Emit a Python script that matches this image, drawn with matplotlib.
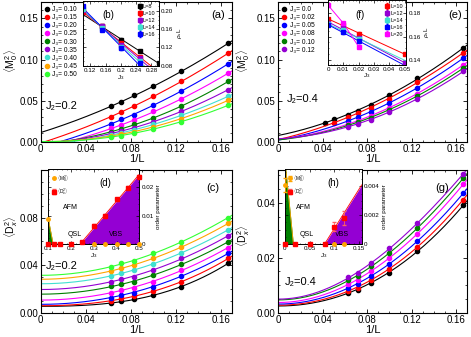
import numpy as np
import matplotlib
matplotlib.use("Agg")
import matplotlib.pyplot as plt

plt.rcParams['font.family'] = ['Liberation Sans', 'DejaVu Sans']
plt.rcParams['mathtext.fontset'] = 'custom'
plt.rcParams['mathtext.rm'] = 'Liberation Sans'
plt.rcParams['mathtext.it'] = 'Liberation Sans:italic'

colors = ["black", "red", "blue", "magenta", "green", "#9400d3", "#40e0d0", "orange", "#33ff33"]

# ---- panel (a): <M0^2>, J2=0.2
inv_L = [1/16, 1/14, 1/12, 1/10, 1/8, 1/6]
j3_labels_a = ["0.10", "0.15", "0.20", "0.25", "0.30", "0.35", "0.40", "0.45", "0.50"]
m2_a = [
    [0.0431, 0.0484, 0.0565, 0.0673, 0.0855, 0.1198],
    [0.0306, 0.0363, 0.0431, 0.0552, 0.0734, 0.1077],
    [0.0214, 0.0274, 0.0331, 0.0444, 0.0617, 0.0948],
    [0.0161, 0.0202, 0.0262, 0.0371, 0.0516, 0.0835],
    [0.0121, 0.0153, 0.0210, 0.0290, 0.0431, 0.0734],
    [0.0101, 0.0129, 0.0169, 0.0242, 0.0371, 0.0633],
    [0.0081, 0.0109, 0.0141, 0.0210, 0.0323, 0.0552],
    [0.0069, 0.0093, 0.0121, 0.0181, 0.0282, 0.0504],
    [0.0056, 0.0073, 0.0109, 0.0153, 0.0242, 0.0444],
]

# ---- panel (c): <Dx^2>, J2=0.2
d2_c = [
    [0.0076, 0.0093, 0.0112, 0.0146, 0.0216, 0.0415],
    [0.0098, 0.0118, 0.0135, 0.0177, 0.0261, 0.0455],
    [0.0126, 0.0149, 0.0168, 0.0216, 0.0309, 0.0497],
    [0.0168, 0.0188, 0.0210, 0.0261, 0.0357, 0.0547],
    [0.0219, 0.0239, 0.0261, 0.0314, 0.0407, 0.0595],
    [0.0261, 0.0281, 0.0303, 0.0357, 0.0455, 0.0646],
    [0.0309, 0.0331, 0.0357, 0.0407, 0.0505, 0.0696],
    [0.0351, 0.0373, 0.0399, 0.0455, 0.0553, 0.0750],
    [0.0385, 0.0413, 0.0435, 0.0497, 0.0595, 0.0800],
]

# ---- panel (e): <M0^2>, J2=0.4
j3_labels_e = ["0.0", "0.02", "0.05", "0.08", "0.10", "0.12"]
x_e = [
    [1/24, 1/20, 1/16, 1/14, 1/12, 1/10, 1/8, 1/6],
    [1/20, 1/16, 1/14, 1/12, 1/10, 1/8, 1/6],
    inv_L, inv_L, inv_L, inv_L,
]
m2_e = [
    [0.0230, 0.0274, 0.0327, 0.0379, 0.0452, 0.0565, 0.0774, 0.1137],
    [0.0230, 0.0298, 0.0351, 0.0415, 0.0524, 0.0726, 0.1080],
    [0.0254, 0.0298, 0.0363, 0.0472, 0.0657, 0.1016],
    [0.0214, 0.0254, 0.0315, 0.0415, 0.0585, 0.0935],
    [0.0198, 0.0238, 0.0294, 0.0391, 0.0556, 0.0895],
    [0.0181, 0.0218, 0.0270, 0.0363, 0.0520, 0.0855],
]

# ---- panel (g): <Dx^2>, J2=0.4
d2_g = [
    [0.0072, 0.0083, 0.0109, 0.0145, 0.0224, 0.0391],
    [0.0080, 0.0091, 0.0118, 0.0158, 0.0240, 0.0412],
    [0.0091, 0.0103, 0.0133, 0.0176, 0.0261, 0.0435],
    [0.0103, 0.0118, 0.0152, 0.0199, 0.0286, 0.0468],
    [0.0117, 0.0133, 0.0168, 0.0217, 0.0307, 0.0490],
    [0.0128, 0.0143, 0.0180, 0.0234, 0.0325, 0.0506],
]

# ---- inset (b): rho_s L vs J3
L_labels_b = ["L=8", "L=10", "L=12", "L=14", "L=16"]
colors_b = ["black", "red", "#9400d3", "#40e0d0", "blue"]
j3_b = [
    [0.15, 0.2, 0.25, 0.3],
    [0.1, 0.15, 0.2, 0.25],
    [0.1, 0.15, 0.2, 0.25],
    [0.1, 0.15, 0.2, 0.25],
    [0.1, 0.15, 0.2, 0.25],
]
rho_b = [
    [0.1665, 0.1375, 0.1120, 0.0850],
    [0.1978, 0.1665, 0.1300, 0.0996],
    [0.2015, 0.1665, 0.1265, 0.0960],
    [0.2050, 0.1636, 0.1215, 0.0909],
    [0.2120, 0.1593, 0.1178, 0.0851],
]

# ---- inset (f): rho_s L vs J3
L_labels_f = ["L=10", "L=12", "L=14", "L=16", "L=20"]
colors_f = ["red", "#9400d3", "#40e0d0", "blue", "magenta"]
j3_f = [
    [0.0, 0.01, 0.02, 0.05],
    [0.0, 0.01, 0.02, 0.05],
    [0.0, 0.01, 0.02],
    [0.0, 0.01, 0.02],
    [0.0, 0.01, 0.02],
]
rho_f = [
    [0.1750, 0.1700, 0.1624, 0.1450],
    [0.1713, 0.1674, 0.1587, 0.1372],
    [0.1705, 0.1654, 0.1580],
    [0.1700, 0.1638, 0.1560],
    [0.1870, 0.1715, 0.1512],
]

# ---- inset (d): phase diagram J2=0.2
j3_D_d = [0.1, 0.125, 0.15, 0.2, 0.25, 0.3, 0.35, 0.4, 0.45, 0.5]
D_d = [0, 0, 0, 0, 0.0008, 0.0064, 0.0100, 0.0158, 0.0199, 0.0238]
D_err_d = [0, 0, 0, 0, 0.0004, 0.0005, 0.0005, 0.0005, 0.0005, 0.0005]
j3_M_d = [0.1, 0.3, 0.35, 0.4, 0.45, 0.5]
M_d = [0.0088, 0, 0, 0, 0, 0]
afm_j3_d = [0.1, 0.121]
afm_edge_d = [0.0088, 0.0]
vbs_j3_d = [0.24, 0.5]
vbs_edge_d = [0.0, 0.0246]

# ---- inset (h): phase diagram J2=0.4
j3_D_h = [0.0, 0.02, 0.05, 0.08, 0.1, 0.12]
D_h = [0, 0, 0, 0, 0.0012, 0.0018]
D_err_h = [0, 0, 0, 0, 0.0003, 0.0005]
j3_M_h = [0.0, 0.1, 0.12]
M_h = [0.0041, 0, 0]
M_err_h = [0.0005, 0, 0]
afm_j3_h = [0.0, 0.017]
afm_edge_h = [0.0058, 0.0]
vbs_j3_h = [0.08, 0.155]
vbs_edge_h = [0.0, 0.0041]

fig = plt.figure(figsize=(4.71, 3.37), dpi=100)


def style_axes(ax, size=7):
    ax.tick_params(which="both", direction="in", top=True, right=True, labelsize=size, pad=2)
    ax.tick_params(which="major", length=3, width=0.6)
    ax.tick_params(which="minor", length=1.5, width=0.5)
    ax.minorticks_on()
    for s in ax.spines.values():
        s.set_linewidth(0.8)


def fit_curve(x, y, powers):
    x = np.asarray(x)
    A = np.vstack([x ** p for p in powers]).T
    coef = np.linalg.lstsq(A, np.asarray(y), rcond=None)[0]
    xf = np.linspace(0, 0.17, 200)
    return xf, sum(c * xf ** p for c, p in zip(coef, powers))


def main_panel(ax, xs, series, cols, powers, ylim, yticks, ylabel, ylab_pos, j2, tag, tagpos, j2pos):
    for x, y, c in zip(xs, series, cols):
        xf, yf = fit_curve(x, y, powers)
        ax.plot(xf, yf, color=c, lw=0.8)
        ax.plot(x, y, "o", color=c, ms=3)
    ax.set_xlim(0, 0.17)
    ax.set_ylim(*ylim)
    ax.set_xticks([0, 0.04, 0.08, 0.12, 0.16])
    ax.set_xticklabels(["0", "0.04", "0.08", "0.12", "0.16"])
    ax.set_yticks(yticks)
    style_axes(ax)
    ax.set_xlabel("1/L", fontsize=8, labelpad=0)
    ax.set_ylabel(ylabel, fontsize=7.5)
    ax.yaxis.set_label_coords(*ylab_pos)
    ax.text(tagpos[0], tagpos[1], tag, transform=ax.transAxes, fontsize=8, ha="center", va="center")
    ax.text(j2pos[0], j2pos[1], j2, transform=ax.transAxes, fontsize=8, ha="left", va="center")


def j3_legend(ax, cols, labels):
    for c, lab in zip(cols, labels):
        ax.plot([], [], "o", color=c, ms=3, label="J\u2083= " + lab)
    ax.legend(loc="upper left", bbox_to_anchor=(0.0, 1.0), fontsize=4.8, frameon=False,
              handlelength=0.6, handletextpad=0.5, labelspacing=0.17, borderaxespad=0.3,
              borderpad=0.3)


ax_a = fig.add_axes([0.0864, 0.5795, 0.4062, 0.4145])
main_panel(ax_a, [inv_L] * 9, m2_a, colors, [0, 1, 2], (0, 0.17), [0, 0.05, 0.10, 0.15],
           r"$\langle$M$_0^2\rangle$", (-0.11, 0.58), "J\u2082=0.2", "(a)", (0.93, 0.91), (0.028, 0.256))
ax_a.set_yticklabels(["0.00", "0.05", "0.10", "0.15"])
j3_legend(ax_a, colors, j3_labels_a)

ax_e = fig.add_axes([0.591, 0.5795, 0.4005, 0.4145])
main_panel(ax_e, x_e, m2_e, colors[:6], [0, 1, 2], (0, 0.17), [0, 0.05, 0.10, 0.15],
           r"$\langle$M$_0^2\rangle$", (-0.14, 0.58), "J\u2082=0.4", "(e)", (0.936, 0.907), (0.046, 0.306))
ax_e.set_yticklabels(["0.00", "0.05", "0.10", "0.15"])
j3_legend(ax_e, colors[:6], j3_labels_e)

ax_c = fig.add_axes([0.0864, 0.0727, 0.4062, 0.4228])
main_panel(ax_c, [inv_L] * 9, d2_c, colors, [0, 2, 3], (0, 0.12), [0, 0.04, 0.08],
           r"$\langle$D$_x^2\rangle$", (-0.11, 0.6), "J\u2082=0.2", "(c)", (0.90, 0.874), (0.028, 0.326))
ax_c.set_yticklabels(["0.00", "0.04", "0.08"])

ax_g = fig.add_axes([0.591, 0.0727, 0.4005, 0.4228])
main_panel(ax_g, [inv_L] * 6, d2_g, colors[:6], [0, 2, 3], (0, 0.052), [0, 0.02, 0.04],
           r"$\langle$D$_x^2\rangle$", (-0.14, 0.54), "J\u2082=0.4", "(g)", (0.867, 0.874), (0.036, 0.214))
ax_g.set_yticklabels(["0.00", "0.02", "0.04"])


def inset_style(ax):
    ax.tick_params(which="both", direction="in", top=True, right=True, left=True,
                   labelleft=False, labelright=True, labelsize=4.5, pad=1.5)
    ax.tick_params(which="major", length=2, width=0.5)
    ax.tick_params(which="minor", length=1, width=0.4)
    ax.minorticks_on()
    ax.yaxis.set_label_position("right")
    for s in ax.spines.values():
        s.set_linewidth(0.7)


def stiffness_inset(ax, xs, ys, cols, labels, xlim, connect=None):
    for x, y, c, lab in zip(xs, ys, cols, labels):
        if lab == connect:
            ax.plot(x, y, color=c, lw=0.7)
        else:
            p = np.polyfit(x, y, 1)
            xl = np.array(xlim)
            ax.plot(xl, np.polyval(p, xl), color=c, lw=0.7)
        ax.errorbar(x, y, yerr=0.0015 * (xlim[1] - xlim[0]) / 0.2 + 0.0008, fmt="s", color=c,
                    ms=2.5, capsize=1, elinewidth=0.5, label=lab)
    ax.set_xlim(*xlim)
    ax.legend(loc="upper right", fontsize=4, frameon=False, handlelength=0.6,
              handletextpad=0.3, labelspacing=0.35, borderaxespad=0.2, markerscale=0.9)


# inset (b)
ax_b = fig.add_axes([0.1756, 0.805, 0.162, 0.192])
stiffness_inset(ax_b, j3_b, rho_b, colors_b, L_labels_b, (0.1, 0.3))
ax_b.set_ylim(0.08, 0.222)
ax_b.set_xticks([0.12, 0.16, 0.2, 0.24, 0.28])
ax_b.set_xticklabels(["0.12", "0.16", "0.2", "0.24", "0.28"])
ax_b.set_yticks([0.08, 0.12, 0.16, 0.20])
inset_style(ax_b)
ax_b.set_xlabel(r"J$_3$", fontsize=4.5, labelpad=0)
ax_b.set_ylabel(r"$\rho_s$L", fontsize=4.5, labelpad=1)
ax_b.text(0.33, 0.79, "(b)", transform=ax_b.transAxes, fontsize=7, ha="center", va="center")

# inset (f)
ax_f = fig.add_axes([0.6964, 0.8086, 0.166, 0.19])
stiffness_inset(ax_f, j3_f, rho_f, colors_f, L_labels_f, (0.0, 0.051), connect="L=20")
ax_f.set_ylim(0.136, 0.191)
ax_f.set_xticks([0, 0.01, 0.02, 0.03, 0.04, 0.05])
ax_f.set_xticklabels(["0", "0.01", "0.02", "0.03", "0.04", "0.05"])
ax_f.set_yticks([0.14, 0.16, 0.18])
inset_style(ax_f)
ax_f.set_xlabel(r"J$_3$", fontsize=4.5, labelpad=0)
ax_f.set_ylabel(r"$\rho_s$L", fontsize=4.5, labelpad=1)
ax_f.text(0.41, 0.78, "(f)", transform=ax_f.transAxes, fontsize=7, ha="center", va="center")


def phase_inset(ax, vbs_x, vbs_y, afm_x, afm_y, jD, D, Derr, jM, M, Merr, xlim, ylim,
                xticks, xtl, yticks, ytl, tag):
    ax.fill_between(vbs_x, vbs_y, 0, color="#9400d3", lw=0)
    ax.plot(vbs_x, vbs_y, color="red", lw=0.6)
    ax.fill_between(afm_x, afm_y, 0, color="green", lw=0)
    ax.plot(afm_x, afm_y, color="orange", lw=0.6)
    ax.errorbar(jM, M, yerr=Merr, fmt="o", color="orange", ms=2.5, capsize=1.5, elinewidth=0.6,
                label=r"$\langle$M$_0^2\rangle$", clip_on=False, zorder=4)
    ax.errorbar(jD, D, yerr=Derr, fmt="s", color="red", ms=3, capsize=1.5, elinewidth=0.6,
                ecolor="#ff6060", label=r"$\langle$D$_x^2\rangle$", clip_on=False, zorder=5)
    ax.set_xlim(*xlim)
    ax.set_ylim(*ylim)
    ax.set_xticks(xticks)
    ax.set_xticklabels(xtl)
    ax.set_yticks(yticks)
    ax.set_yticklabels(ytl)
    inset_style(ax)
    ax.set_xlabel(r"J$_3$", fontsize=4.5, labelpad=0)
    ax.set_ylabel("order parameter", fontsize=4.5, labelpad=2)
    ax.text(0.63, 0.81, tag, transform=ax.transAxes, fontsize=7, ha="center", va="center")
    ax.text(0.24, 0.48, "AFM", transform=ax.transAxes, fontsize=5, ha="center", va="center")
    ax.text(0.29, 0.133, "QSL", transform=ax.transAxes, fontsize=5, ha="center", va="center")
    ax.text(0.74, 0.133, "VBS", transform=ax.transAxes, fontsize=5, ha="center", va="center")
    ax.legend(loc="upper left", fontsize=3.5, frameon=False, handlelength=0.6,
              handletextpad=0.3, labelspacing=0.5, borderaxespad=0.4)


ax_d = fig.add_axes([0.1026, 0.276, 0.193, 0.2225])
phase_inset(ax_d, vbs_j3_d, vbs_edge_d, afm_j3_d, afm_edge_d, j3_D_d, D_d, D_err_d,
            j3_M_d, M_d, None,
            (0.1, 0.5), (0, 0.0265), [0.1, 0.2, 0.3, 0.4, 0.5], ["0.1", "0.2", "0.3", "0.4", "0.5"],
            [0, 0.01, 0.02], ["0", "0.01", "0.02"], "(d)")

ax_h = fig.add_axes([0.605, 0.276, 0.163, 0.2225])
phase_inset(ax_h, vbs_j3_h, vbs_edge_h, afm_j3_h, afm_edge_h, j3_D_h, D_h, D_err_h,
            j3_M_h, M_h, M_err_h,
            (0, 0.155), (0, 0.0052), [0, 0.05, 0.1, 0.15], ["0", "0.05", "0.1", "0.15"],
            [0, 0.002, 0.004], ["0", "0.002", "0.004"], "(h)")

fig.savefig("out.png", dpi=100)
